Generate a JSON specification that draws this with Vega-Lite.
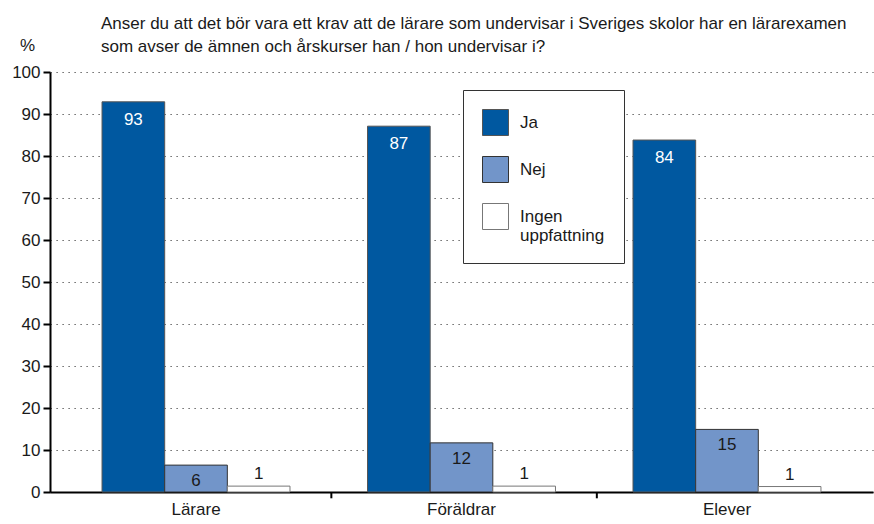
{
  "$schema": "https://vega.github.io/schema/vega-lite/v6.json",
  "width": 823,
  "height": 420,
  "autosize": {"type": "none"},
  "padding": {"left": 50, "top": 72, "right": 1, "bottom": 32},
  "background": "white",
  "config": {
    "font": "Liberation Sans",
    "view": {"stroke": null}
  },
  "title": {
    "text": ["Anser du att det bör vara ett krav att de lärare som undervisar i Sveriges skolor har en lärarexamen", "som avser de ämnen och årskurser han / hon undervisar i?"],
    "anchor": "start",
    "frame": "group",
    "dx": 51,
    "offset": -20,
    "fontSize": 17,
    "fontWeight": "normal",
    "lineHeight": 23,
    "color": "#1a1a1a",
    "font": "Liberation Sans"
  },
  "data": {
    "values": [
      {"group": "Lärare", "answer": "Ja", "value": 92.9},
      {"group": "Lärare", "answer": "Nej", "value": 6.4},
      {"group": "Lärare", "answer": "Ingen uppfattning", "value": 1.4},
      {"group": "Föräldrar", "answer": "Ja", "value": 87.1},
      {"group": "Föräldrar", "answer": "Nej", "value": 11.7},
      {"group": "Föräldrar", "answer": "Ingen uppfattning", "value": 1.4},
      {"group": "Elever", "answer": "Ja", "value": 83.8},
      {"group": "Elever", "answer": "Nej", "value": 14.9},
      {"group": "Elever", "answer": "Ingen uppfattning", "value": 1.3}
    ]
  },
  "encoding": {
    "x": {
      "field": "group",
      "type": "nominal",
      "sort": ["Lärare", "Föräldrar", "Elever"],
      "scale": {"paddingInner": 0.292, "paddingOuter": 0.196},
      "axis": {
        "title": null,
        "labelAngle": 0,
        "labelFontSize": 17,
        "labelColor": "#1a1a1a",
        "labelPadding": 9,
        "ticks": false,
        "domainColor": "#000",
        "domainWidth": 2
      }
    },
    "y": {
      "field": "value",
      "type": "quantitative",
      "scale": {"domain": [0, 100], "nice": false},
      "axis": {
        "title": "%",
        "titleAngle": 0,
        "titleX": -23,
        "titleY": -27,
        "titleAlign": "center",
        "titleBaseline": "middle",
        "titleFontSize": 17,
        "titleFontWeight": "normal",
        "titleColor": "#1a1a1a",
        "values": [0, 10, 20, 30, 40, 50, 60, 70, 80, 90, 100],
        "labelFontSize": 17,
        "labelColor": "#1a1a1a",
        "labelPadding": 3,
        "tickSize": 7,
        "tickColor": "#000",
        "tickWidth": 2,
        "domainColor": "#000",
        "domainWidth": 2,
        "grid": true,
        "gridColor": "#444",
        "gridDash": [1.2, 4.8],
        "gridWidth": 1.2
      }
    }
  },
  "layer": [
    {
      "mark": {"type": "bar", "strokeWidth": 1},
      "encoding": {
        "xOffset": {
          "field": "answer",
          "type": "nominal",
          "sort": ["Ja", "Nej", "Ingen uppfattning"],
          "scale": {"paddingInner": 0, "paddingOuter": 0}
        },
        "fill": {
          "field": "answer",
          "type": "nominal",
          "scale": {
            "domain": ["Ja", "Nej", "Ingen uppfattning"],
            "range": ["#0058A0", "#7295C9", "#ffffff"]
          },
          "legend": {
            "orient": "none",
            "legendX": 413,
            "legendY": 18,
            "title": null,
            "direction": "vertical",
            "symbolType": "square",
            "symbolSize": 676,
            "symbolStrokeColor": "#333",
            "symbolStrokeWidth": 1,
            "labelFontSize": 17,
            "labelColor": "#1a1a1a",
            "labelOffset": 11,
            "labelBaseline": "middle",
            "labelLimit": 300,
            "rowPadding": 16,
            "padding": 19,
            "strokeColor": "#333",
            "fillColor": "white",
            "labelExpr": "datum.label == 'Ingen uppfattning' ? ['Ingen', 'uppfattning'] : datum.label"
          }
        },
        "stroke": {
          "field": "answer",
          "type": "nominal",
          "scale": {
            "domain": ["Ja", "Nej", "Ingen uppfattning"],
            "range": ["#555555", "#333333", "#777777"]
          },
          "legend": null
        }
      }
    },
    {
      "transform": [{"filter": "datum.answer == 'Ja'"}],
      "mark": {"type": "text", "dy": 18, "baseline": "middle", "fontSize": 17, "color": "white"},
      "encoding": {
        "xOffset": {"field": "answer", "type": "nominal", "sort": ["Ja", "Nej", "Ingen uppfattning"], "scale": {"paddingInner": 0, "paddingOuter": 0}},
        "text": {"field": "value", "type": "quantitative", "format": ".0f"}
      }
    },
    {
      "transform": [{"filter": "datum.answer == 'Nej'"}],
      "mark": {"type": "text", "dy": 16, "baseline": "middle", "fontSize": 17, "color": "#1a1a1a"},
      "encoding": {
        "xOffset": {"field": "answer", "type": "nominal", "sort": ["Ja", "Nej", "Ingen uppfattning"], "scale": {"paddingInner": 0, "paddingOuter": 0}},
        "text": {"field": "value", "type": "quantitative", "format": ".0f"}
      }
    },
    {
      "transform": [{"filter": "datum.answer == 'Ingen uppfattning'"}],
      "mark": {"type": "text", "dy": -12, "baseline": "middle", "fontSize": 17, "color": "#1a1a1a"},
      "encoding": {
        "xOffset": {"field": "answer", "type": "nominal", "sort": ["Ja", "Nej", "Ingen uppfattning"], "scale": {"paddingInner": 0, "paddingOuter": 0}},
        "text": {"field": "value", "type": "quantitative", "format": ".0f"}
      }
    },
    {
      "transform": [{"filter": "datum.answer == 'Ja' && datum.group != 'Elever'"}],
      "mark": {"type": "rule", "color": "#000", "strokeWidth": 2},
      "encoding": {
        "x": {"field": "group", "type": "nominal", "sort": ["Lärare", "Föräldrar", "Elever"], "bandPosition": 1.22},
        "y": {"datum": 0},
        "y2": {"datum": -1.5}
      }
    }
  ]
}
